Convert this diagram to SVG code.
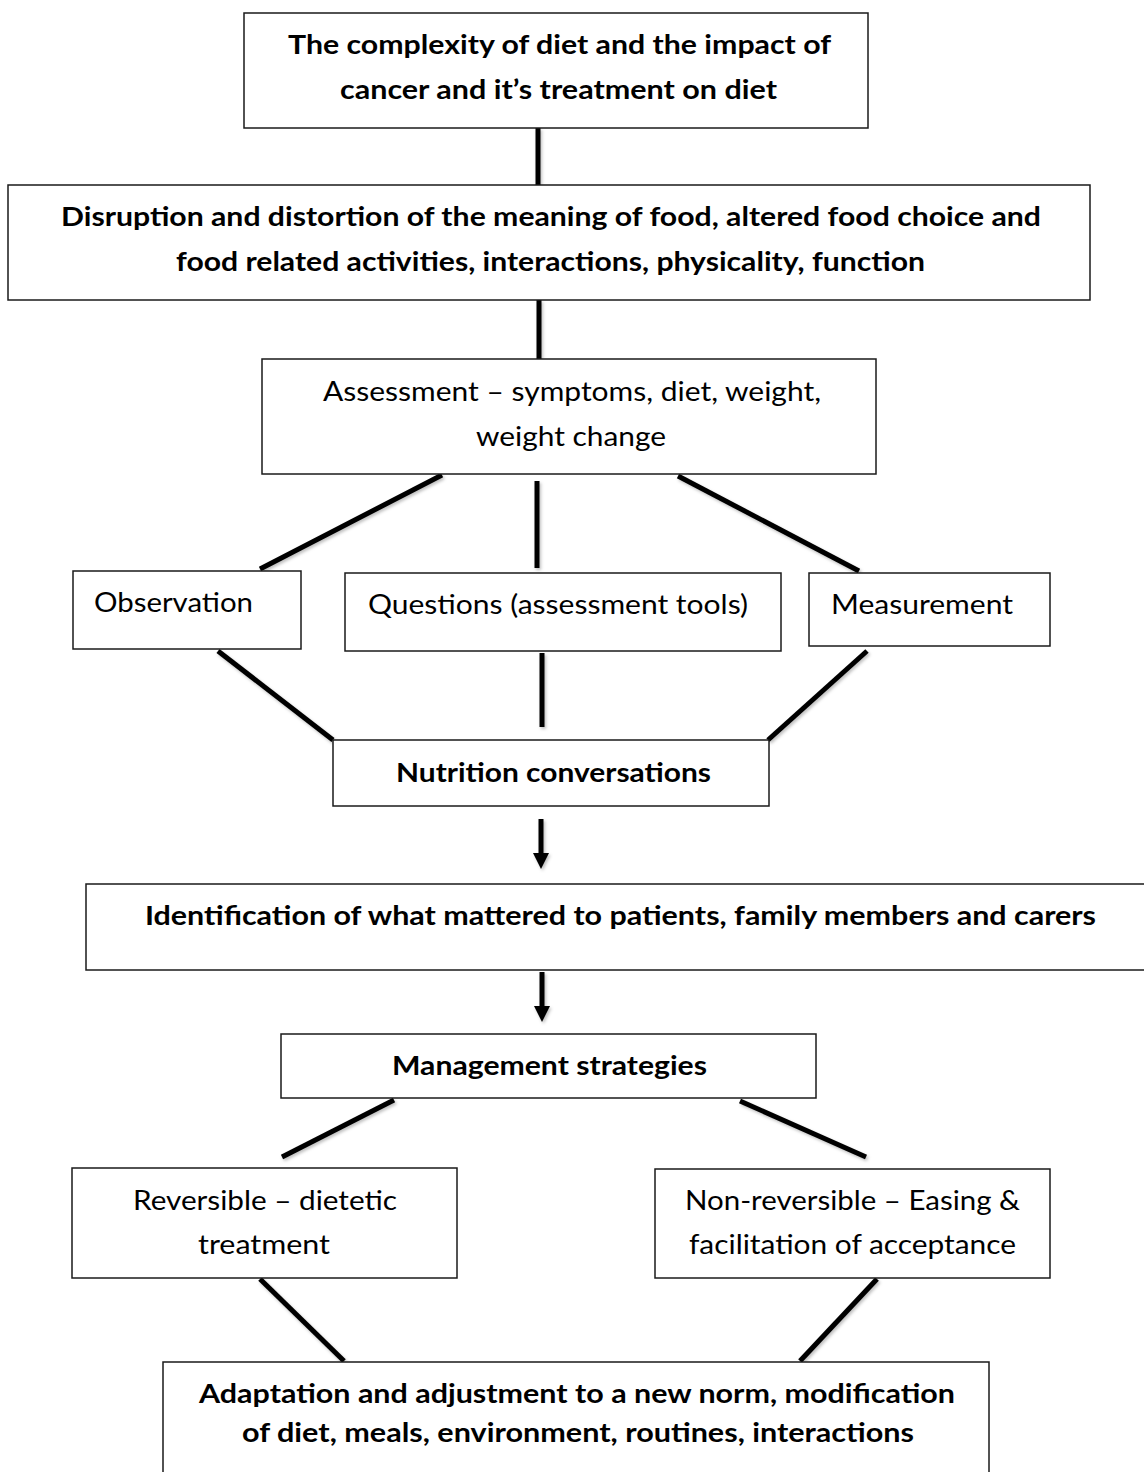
<svg xmlns="http://www.w3.org/2000/svg" width="1144" height="1472" viewBox="0 0 1144 1472">
  <style>
    .box { fill: #ffffff; stroke: #1a1a1a; stroke-width: 1.5; }
    .t { font-family: Lato, "Open Sans", "Liberation Sans", sans-serif; font-size: 26px; fill: #000000; }
    .b { font-weight: bold; }
    .conn line { stroke: #000000; stroke-width: 5; stroke-linecap: butt; }
  </style>
  <defs>
    <filter id="sh" x="-20%" y="-20%" width="140%" height="140%">
      <feDropShadow dx="1.5" dy="2" stdDeviation="1.5" flood-color="#000000" flood-opacity="0.25"/>
    </filter>
    <marker id="ah" viewBox="0 0 16 16" refX="0" refY="8" markerWidth="16" markerHeight="16" markerUnits="userSpaceOnUse" orient="auto">
      <path d="M0,0 L16,8 L0,16 Z" fill="#000000"/>
    </marker>
  </defs>

  <g id="connectors" class="conn" filter="url(#sh)">
    <line x1="538" y1="128" x2="538" y2="185"/>
    <line x1="539" y1="300" x2="539" y2="359"/>
    <line x1="442" y1="475" x2="260" y2="569"/>
    <line x1="537" y1="481" x2="537" y2="568"/>
    <line x1="678" y1="476" x2="859" y2="571"/>
    <line x1="218" y1="651" x2="333" y2="740"/>
    <line x1="542" y1="653" x2="542" y2="727"/>
    <line x1="867" y1="651" x2="768" y2="740"/>
    <line x1="541" y1="819" x2="541" y2="853" marker-end="url(#ah)"/>
    <line x1="542" y1="972" x2="542" y2="1006" marker-end="url(#ah)"/>
    <line x1="394" y1="1100" x2="282" y2="1157"/>
    <line x1="740" y1="1101" x2="866" y2="1157"/>
    <line x1="260" y1="1279" x2="344" y2="1361"/>
    <line x1="877" y1="1279" x2="800" y2="1361"/>
  </g>

  <g id="n-complexity">
    <rect class="box" x="244" y="13" width="624" height="115"/>
    <text class="t b" x="288" y="54" textLength="543" lengthAdjust="spacingAndGlyphs">The complexity of diet and the impact of</text>
    <text class="t b" x="340" y="99" textLength="437" lengthAdjust="spacingAndGlyphs">cancer and it’s treatment on diet</text>
  </g>

  <g id="n-disruption">
    <rect class="box" x="8" y="185" width="1082" height="115"/>
    <text class="t b" x="61" y="226" textLength="980" lengthAdjust="spacingAndGlyphs">Disruption and distortion of the meaning of food, altered food choice and</text>
    <text class="t b" x="176" y="271" textLength="749" lengthAdjust="spacingAndGlyphs">food related activities, interactions, physicality, function</text>
  </g>

  <g id="n-assessment">
    <rect class="box" x="262" y="359" width="614" height="115"/>
    <text class="t" x="323" y="401" textLength="498" lengthAdjust="spacingAndGlyphs">Assessment – symptoms, diet, weight,</text>
    <text class="t" x="476" y="446" textLength="190" lengthAdjust="spacingAndGlyphs">weight change</text>
  </g>

  <g id="n-observation">
    <rect class="box" x="73" y="571" width="228" height="78"/>
    <text class="t" x="94" y="612" textLength="159" lengthAdjust="spacingAndGlyphs">Observation</text>
  </g>

  <g id="n-questions">
    <rect class="box" x="345" y="573" width="436" height="78"/>
    <text class="t" x="368" y="614" textLength="380" lengthAdjust="spacingAndGlyphs">Questions (assessment tools)</text>
  </g>

  <g id="n-measurement">
    <rect class="box" x="809" y="573" width="241" height="73"/>
    <text class="t" x="831" y="614" textLength="182" lengthAdjust="spacingAndGlyphs">Measurement</text>
  </g>

  <g id="n-nutrition">
    <rect class="box" x="333" y="740" width="436" height="66"/>
    <text class="t b" x="396" y="782" textLength="315" lengthAdjust="spacingAndGlyphs">Nutrition conversations</text>
  </g>

  <g id="n-identification">
    <rect class="box" x="86" y="884" width="1070" height="86"/>
    <text class="t b" x="145" y="925" textLength="951" lengthAdjust="spacingAndGlyphs">Identification of what mattered to patients, family members and carers</text>
  </g>

  <g id="n-management">
    <rect class="box" x="281" y="1034" width="535" height="64"/>
    <text class="t b" x="392" y="1075" textLength="315" lengthAdjust="spacingAndGlyphs">Management strategies</text>
  </g>

  <g id="n-reversible">
    <rect class="box" x="72" y="1168" width="385" height="110"/>
    <text class="t" x="133" y="1210" textLength="264" lengthAdjust="spacingAndGlyphs">Reversible – dietetic</text>
    <text class="t" x="198" y="1254" textLength="132" lengthAdjust="spacingAndGlyphs">treatment</text>
  </g>

  <g id="n-nonreversible">
    <rect class="box" x="655" y="1169" width="395" height="109"/>
    <text class="t" x="685" y="1210" textLength="335" lengthAdjust="spacingAndGlyphs">Non-reversible – Easing &amp;</text>
    <text class="t" x="689" y="1254" textLength="327" lengthAdjust="spacingAndGlyphs">facilitation of acceptance</text>
  </g>

  <g id="n-adaptation">
    <rect class="box" x="163" y="1362" width="826" height="130"/>
    <text class="t b" x="199" y="1403" textLength="756" lengthAdjust="spacingAndGlyphs">Adaptation and adjustment to a new norm, modification</text>
    <text class="t b" x="242" y="1442" textLength="672" lengthAdjust="spacingAndGlyphs">of diet, meals, environment, routines, interactions</text>
  </g>
</svg>
